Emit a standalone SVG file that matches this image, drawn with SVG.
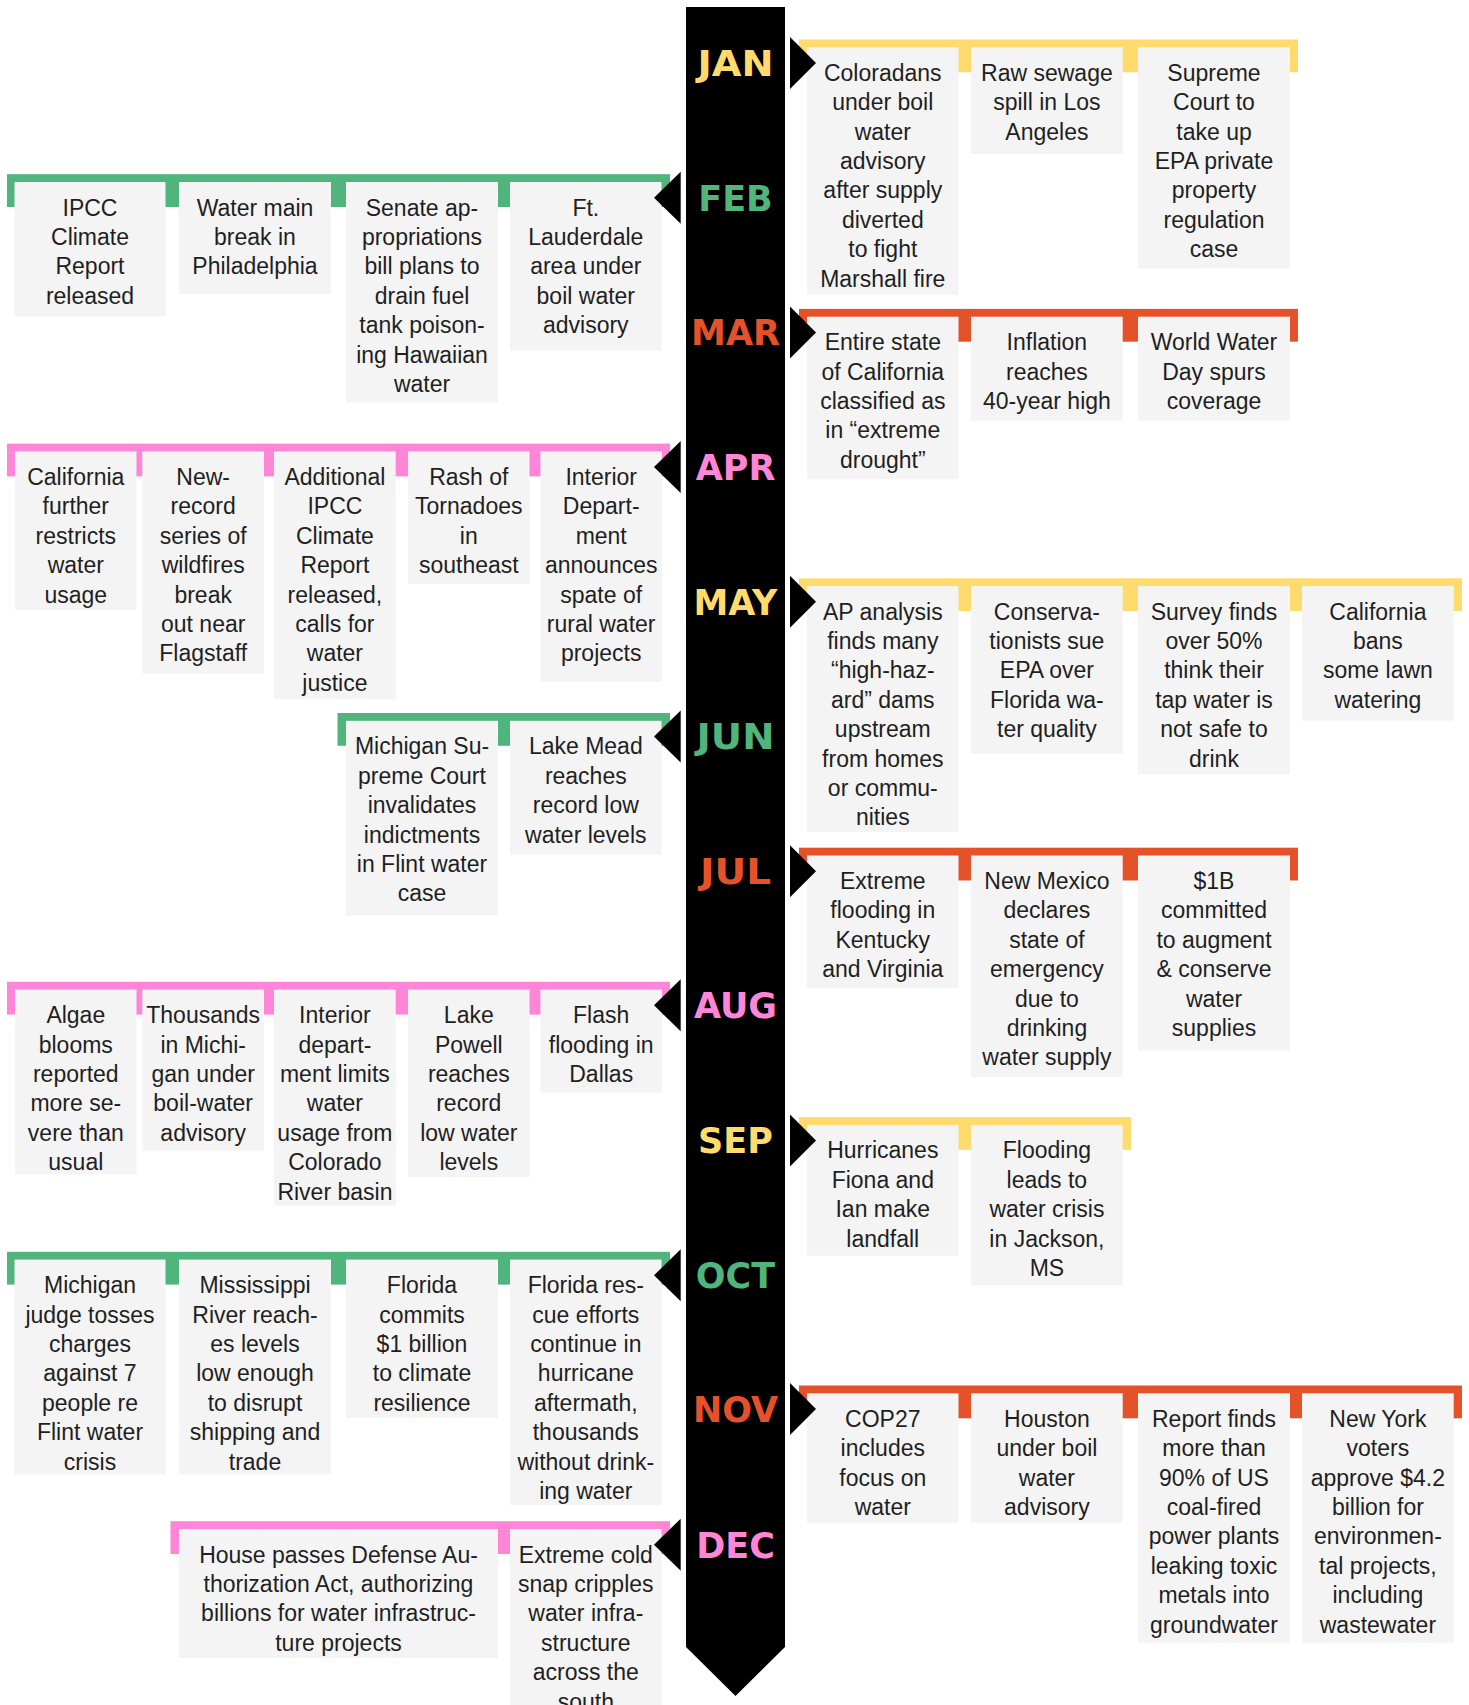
<svg xmlns="http://www.w3.org/2000/svg" width="1469" height="1705" viewBox="0 0 1469 1705">
<style>
.bx{fill:#f4f4f4}
.t{font-family:"Liberation Sans",Arial,sans-serif;font-size:23px;fill:#1f1f1f;text-anchor:middle}
.m{font-family:"DejaVu Sans",sans-serif;font-weight:bold;font-size:35px;text-anchor:middle}
.y{fill:#ffdb6e}.g{fill:#50b47d}.o{fill:#e5522a}.p{fill:#ff85d6}
.tri{fill:#000}
</style>
<rect width="1469" height="1705" fill="#fff"/>
<g id="spine"><polygon points="686,7 785,7 785,1647 735.5,1696 686,1647" fill="#000"/></g>

<g id="connectors">
<rect class="y" x="799" y="39.5" width="499" height="32.8"/>
<rect class="g" x="7" y="174.2" width="663" height="32.8"/>
<rect class="o" x="799" y="308.9" width="499" height="32.8"/>
<rect class="p" x="7" y="443.6" width="663" height="32.8"/>
<rect class="y" x="799" y="578.3" width="663" height="32.8"/>
<rect class="g" x="337.5" y="713" width="332.5" height="32.8"/>
<rect class="o" x="799" y="847.7" width="499" height="32.8"/>
<rect class="p" x="7" y="981.8" width="663" height="32.8"/>
<rect class="y" x="799" y="1117.1" width="332" height="32.8"/>
<rect class="g" x="7" y="1251.8" width="663" height="32.8"/>
<rect class="o" x="799" y="1385.5" width="663" height="32.8"/>
<rect class="p" x="170.5" y="1521.2" width="499.5" height="32.8"/>
</g>

<g id="jan-1"><rect class="bx" x="807" y="47.3" width="151.5" height="247.2"/><text class="t" y="80.8"><tspan x="882.8">Coloradans</tspan><tspan x="882.8" dy="29.4">under boil</tspan><tspan x="882.8" dy="29.4">water</tspan><tspan x="882.8" dy="29.4">advisory</tspan><tspan x="882.8" dy="29.4">after supply</tspan><tspan x="882.8" dy="29.4">diverted</tspan><tspan x="882.8" dy="29.4">to fight</tspan><tspan x="882.8" dy="29.4">Marshall fire</tspan></text></g>
<g id="jan-2"><rect class="bx" x="971" y="47.3" width="151.7" height="106.7"/><text class="t" y="80.8"><tspan x="1046.9">Raw sewage</tspan><tspan x="1046.9" dy="29.4">spill in Los</tspan><tspan x="1046.9" dy="29.4">Angeles</tspan></text></g>
<g id="jan-3"><rect class="bx" x="1138" y="47.3" width="152" height="221.3"/><text class="t" y="80.8"><tspan x="1214">Supreme</tspan><tspan x="1214" dy="29.4">Court to</tspan><tspan x="1214" dy="29.4">take up</tspan><tspan x="1214" dy="29.4">EPA private</tspan><tspan x="1214" dy="29.4">property</tspan><tspan x="1214" dy="29.4">regulation</tspan><tspan x="1214" dy="29.4">case</tspan></text></g>

<g id="feb-1"><rect class="bx" x="14.5" y="182" width="151" height="134.5"/><text class="t" y="215.5"><tspan x="90">IPCC</tspan><tspan x="90" dy="29.4">Climate</tspan><tspan x="90" dy="29.4">Report</tspan><tspan x="90" dy="29.4">released</tspan></text></g>
<g id="feb-2"><rect class="bx" x="179" y="182" width="152" height="112"/><text class="t" y="215.5"><tspan x="255">Water main</tspan><tspan x="255" dy="29.4">break in</tspan><tspan x="255" dy="29.4">Philadelphia</tspan></text></g>
<g id="feb-3"><rect class="bx" x="346" y="182" width="152" height="220.3"/><text class="t" y="215.5"><tspan x="422">Senate ap-</tspan><tspan x="422" dy="29.4">propriations</tspan><tspan x="422" dy="29.4">bill plans to</tspan><tspan x="422" dy="29.4">drain fuel</tspan><tspan x="422" dy="29.4">tank poison-</tspan><tspan x="422" dy="29.4">ing Hawaiian</tspan><tspan x="422" dy="29.4">water</tspan></text></g>
<g id="feb-4"><rect class="bx" x="510" y="182" width="151.5" height="168.5"/><text class="t" y="215.5"><tspan x="585.8">Ft.</tspan><tspan x="585.8" dy="29.4">Lauderdale</tspan><tspan x="585.8" dy="29.4">area under</tspan><tspan x="585.8" dy="29.4">boil water</tspan><tspan x="585.8" dy="29.4">advisory</tspan></text></g>

<g id="mar-1"><rect class="bx" x="807" y="316.7" width="151.5" height="162.6"/><text class="t" y="350.2"><tspan x="882.8">Entire state</tspan><tspan x="882.8" dy="29.4">of California</tspan><tspan x="882.8" dy="29.4">classified as</tspan><tspan x="882.8" dy="29.4">in “extreme</tspan><tspan x="882.8" dy="29.4">drought”</tspan></text></g>
<g id="mar-2"><rect class="bx" x="971" y="316.7" width="151.7" height="104"/><text class="t" y="350.2"><tspan x="1046.9">Inflation</tspan><tspan x="1046.9" dy="29.4">reaches</tspan><tspan x="1046.9" dy="29.4">40-year high</tspan></text></g>
<g id="mar-3"><rect class="bx" x="1138" y="316.7" width="152" height="104"/><text class="t" y="350.2"><tspan x="1214">World Water</tspan><tspan x="1214" dy="29.4">Day spurs</tspan><tspan x="1214" dy="29.4">coverage</tspan></text></g>

<g id="apr-1"><rect class="bx" x="15" y="451.4" width="121.5" height="158.6"/><text class="t" y="484.9"><tspan x="75.8">California</tspan><tspan x="75.8" dy="29.4">further</tspan><tspan x="75.8" dy="29.4">restricts</tspan><tspan x="75.8" dy="29.4">water</tspan><tspan x="75.8" dy="29.4">usage</tspan></text></g>
<g id="apr-2"><rect class="bx" x="142.3" y="451.4" width="121.7" height="222.3"/><text class="t" y="484.9"><tspan x="203.2">New-</tspan><tspan x="203.2" dy="29.4">record</tspan><tspan x="203.2" dy="29.4">series of</tspan><tspan x="203.2" dy="29.4">wildfires</tspan><tspan x="203.2" dy="29.4">break</tspan><tspan x="203.2" dy="29.4">out near</tspan><tspan x="203.2" dy="29.4">Flagstaff</tspan></text></g>
<g id="apr-3"><rect class="bx" x="274" y="451.4" width="121.7" height="247.9"/><text class="t" y="484.9"><tspan x="334.9">Additional</tspan><tspan x="334.9" dy="29.4">IPCC</tspan><tspan x="334.9" dy="29.4">Climate</tspan><tspan x="334.9" dy="29.4">Report</tspan><tspan x="334.9" dy="29.4">released,</tspan><tspan x="334.9" dy="29.4">calls for</tspan><tspan x="334.9" dy="29.4">water</tspan><tspan x="334.9" dy="29.4">justice</tspan></text></g>
<g id="apr-4"><rect class="bx" x="408" y="451.4" width="121.5" height="132.6"/><text class="t" y="484.9"><tspan x="468.8">Rash of</tspan><tspan x="468.8" dy="29.4">Tornadoes</tspan><tspan x="468.8" dy="29.4">in</tspan><tspan x="468.8" dy="29.4">southeast</tspan></text></g>
<g id="apr-5"><rect class="bx" x="540.4" y="451.4" width="121.6" height="230.3"/><text class="t" y="484.9"><tspan x="601.2">Interior</tspan><tspan x="601.2" dy="29.4">Depart-</tspan><tspan x="601.2" dy="29.4">ment</tspan><tspan x="601.2" dy="29.4">announces</tspan><tspan x="601.2" dy="29.4">spate of</tspan><tspan x="601.2" dy="29.4">rural water</tspan><tspan x="601.2" dy="29.4">projects</tspan></text></g>

<g id="may-1"><rect class="bx" x="807" y="586.1" width="151.5" height="245.9"/><text class="t" y="619.6"><tspan x="882.8">AP analysis</tspan><tspan x="882.8" dy="29.4">finds many</tspan><tspan x="882.8" dy="29.4">“high-haz-</tspan><tspan x="882.8" dy="29.4">ard” dams</tspan><tspan x="882.8" dy="29.4">upstream</tspan><tspan x="882.8" dy="29.4">from homes</tspan><tspan x="882.8" dy="29.4">or commu-</tspan><tspan x="882.8" dy="29.4">nities</tspan></text></g>
<g id="may-2"><rect class="bx" x="971" y="586.1" width="151.7" height="167.7"/><text class="t" y="619.6"><tspan x="1046.9">Conserva-</tspan><tspan x="1046.9" dy="29.4">tionists sue</tspan><tspan x="1046.9" dy="29.4">EPA over</tspan><tspan x="1046.9" dy="29.4">Florida wa-</tspan><tspan x="1046.9" dy="29.4">ter quality</tspan></text></g>
<g id="may-3"><rect class="bx" x="1138" y="586.1" width="152" height="188.1"/><text class="t" y="619.6"><tspan x="1214">Survey finds</tspan><tspan x="1214" dy="29.4">over 50%</tspan><tspan x="1214" dy="29.4">think their</tspan><tspan x="1214" dy="29.4">tap water is</tspan><tspan x="1214" dy="29.4">not safe to</tspan><tspan x="1214" dy="29.4">drink</tspan></text></g>
<g id="may-4"><rect class="bx" x="1302" y="586.1" width="151.7" height="134.5"/><text class="t" y="619.6"><tspan x="1377.9">California</tspan><tspan x="1377.9" dy="29.4">bans</tspan><tspan x="1377.9" dy="29.4">some lawn</tspan><tspan x="1377.9" dy="29.4">watering</tspan></text></g>

<g id="jun-1"><rect class="bx" x="346" y="720.8" width="152" height="194.7"/><text class="t" y="754.3"><tspan x="422">Michigan Su-</tspan><tspan x="422" dy="29.4">preme Court</tspan><tspan x="422" dy="29.4">invalidates</tspan><tspan x="422" dy="29.4">indictments</tspan><tspan x="422" dy="29.4">in Flint water</tspan><tspan x="422" dy="29.4">case</tspan></text></g>
<g id="jun-2"><rect class="bx" x="510" y="720.8" width="151.5" height="133.8"/><text class="t" y="754.3"><tspan x="585.8">Lake Mead</tspan><tspan x="585.8" dy="29.4">reaches</tspan><tspan x="585.8" dy="29.4">record low</tspan><tspan x="585.8" dy="29.4">water levels</tspan></text></g>

<g id="jul-1"><rect class="bx" x="807" y="855.5" width="151.5" height="132.8"/><text class="t" y="889"><tspan x="882.8">Extreme</tspan><tspan x="882.8" dy="29.4">flooding in</tspan><tspan x="882.8" dy="29.4">Kentucky</tspan><tspan x="882.8" dy="29.4">and Virginia</tspan></text></g>
<g id="jul-2"><rect class="bx" x="971" y="855.5" width="151.7" height="221.5"/><text class="t" y="889"><tspan x="1046.9">New Mexico</tspan><tspan x="1046.9" dy="29.4">declares</tspan><tspan x="1046.9" dy="29.4">state of</tspan><tspan x="1046.9" dy="29.4">emergency</tspan><tspan x="1046.9" dy="29.4">due to</tspan><tspan x="1046.9" dy="29.4">drinking</tspan><tspan x="1046.9" dy="29.4">water supply</tspan></text></g>
<g id="jul-3"><rect class="bx" x="1138" y="855.5" width="152" height="195"/><text class="t" y="889"><tspan x="1214">$1B</tspan><tspan x="1214" dy="29.4">committed</tspan><tspan x="1214" dy="29.4">to augment</tspan><tspan x="1214" dy="29.4">&amp; conserve</tspan><tspan x="1214" dy="29.4">water</tspan><tspan x="1214" dy="29.4">supplies</tspan></text></g>

<g id="aug-1"><rect class="bx" x="15" y="989.6" width="121.5" height="184.7"/><text class="t" y="1023.1"><tspan x="75.8">Algae</tspan><tspan x="75.8" dy="29.4">blooms</tspan><tspan x="75.8" dy="29.4">reported</tspan><tspan x="75.8" dy="29.4">more se-</tspan><tspan x="75.8" dy="29.4">vere than</tspan><tspan x="75.8" dy="29.4">usual</tspan></text></g>
<g id="aug-2"><rect class="bx" x="142.3" y="989.6" width="121.7" height="161.1"/><text class="t" y="1023.1"><tspan x="203.2">Thousands</tspan><tspan x="203.2" dy="29.4">in Michi-</tspan><tspan x="203.2" dy="29.4">gan under</tspan><tspan x="203.2" dy="29.4">boil-water</tspan><tspan x="203.2" dy="29.4">advisory</tspan></text></g>
<g id="aug-3"><rect class="bx" x="274" y="989.6" width="121.7" height="216.1"/><text class="t" y="1023.1"><tspan x="334.9">Interior</tspan><tspan x="334.9" dy="29.4">depart-</tspan><tspan x="334.9" dy="29.4">ment limits</tspan><tspan x="334.9" dy="29.4">water</tspan><tspan x="334.9" dy="29.4">usage from</tspan><tspan x="334.9" dy="29.4">Colorado</tspan><tspan x="334.9" dy="29.4">River basin</tspan></text></g>
<g id="aug-4"><rect class="bx" x="408" y="989.6" width="121.5" height="187.7"/><text class="t" y="1023.1"><tspan x="468.8">Lake</tspan><tspan x="468.8" dy="29.4">Powell</tspan><tspan x="468.8" dy="29.4">reaches</tspan><tspan x="468.8" dy="29.4">record</tspan><tspan x="468.8" dy="29.4">low water</tspan><tspan x="468.8" dy="29.4">levels</tspan></text></g>
<g id="aug-5"><rect class="bx" x="540.4" y="989.6" width="121.6" height="103.1"/><text class="t" y="1023.1"><tspan x="601.2">Flash</tspan><tspan x="601.2" dy="29.4">flooding in</tspan><tspan x="601.2" dy="29.4">Dallas</tspan></text></g>

<g id="sep-1"><rect class="bx" x="807" y="1124.9" width="151.5" height="130.9"/><text class="t" y="1158.4"><tspan x="882.8">Hurricanes</tspan><tspan x="882.8" dy="29.4">Fiona and</tspan><tspan x="882.8" dy="29.4">Ian make</tspan><tspan x="882.8" dy="29.4">landfall</tspan></text></g>
<g id="sep-2"><rect class="bx" x="971" y="1124.9" width="151.7" height="160.3"/><text class="t" y="1158.4"><tspan x="1046.9">Flooding</tspan><tspan x="1046.9" dy="29.4">leads to</tspan><tspan x="1046.9" dy="29.4">water crisis</tspan><tspan x="1046.9" dy="29.4">in Jackson,</tspan><tspan x="1046.9" dy="29.4">MS</tspan></text></g>

<g id="oct-1"><rect class="bx" x="14.5" y="1259.6" width="151" height="214.8"/><text class="t" y="1293.1"><tspan x="90">Michigan</tspan><tspan x="90" dy="29.4">judge tosses</tspan><tspan x="90" dy="29.4">charges</tspan><tspan x="90" dy="29.4">against 7</tspan><tspan x="90" dy="29.4">people re</tspan><tspan x="90" dy="29.4">Flint water</tspan><tspan x="90" dy="29.4">crisis</tspan></text></g>
<g id="oct-2"><rect class="bx" x="179" y="1259.6" width="152" height="214.8"/><text class="t" y="1293.1"><tspan x="255">Mississippi</tspan><tspan x="255" dy="29.4">River reach-</tspan><tspan x="255" dy="29.4">es levels</tspan><tspan x="255" dy="29.4">low enough</tspan><tspan x="255" dy="29.4">to disrupt</tspan><tspan x="255" dy="29.4">shipping and</tspan><tspan x="255" dy="29.4">trade</tspan></text></g>
<g id="oct-3"><rect class="bx" x="346" y="1259.6" width="152" height="158.2"/><text class="t" y="1293.1"><tspan x="422">Florida</tspan><tspan x="422" dy="29.4">commits</tspan><tspan x="422" dy="29.4">$1 billion</tspan><tspan x="422" dy="29.4">to climate</tspan><tspan x="422" dy="29.4">resilience</tspan></text></g>
<g id="oct-4"><rect class="bx" x="510" y="1259.6" width="151.5" height="245.4"/><text class="t" y="1293.1"><tspan x="585.8">Florida res-</tspan><tspan x="585.8" dy="29.4">cue efforts</tspan><tspan x="585.8" dy="29.4">continue in</tspan><tspan x="585.8" dy="29.4">hurricane</tspan><tspan x="585.8" dy="29.4">aftermath,</tspan><tspan x="585.8" dy="29.4">thousands</tspan><tspan x="585.8" dy="29.4">without drink-</tspan><tspan x="585.8" dy="29.4">ing water</tspan></text></g>

<g id="nov-1"><rect class="bx" x="807" y="1393.3" width="151.5" height="129.4"/><text class="t" y="1426.8"><tspan x="882.8">COP27</tspan><tspan x="882.8" dy="29.4">includes</tspan><tspan x="882.8" dy="29.4">focus on</tspan><tspan x="882.8" dy="29.4">water</tspan></text></g>
<g id="nov-2"><rect class="bx" x="971" y="1393.3" width="151.7" height="129.4"/><text class="t" y="1426.8"><tspan x="1046.9">Houston</tspan><tspan x="1046.9" dy="29.4">under boil</tspan><tspan x="1046.9" dy="29.4">water</tspan><tspan x="1046.9" dy="29.4">advisory</tspan></text></g>
<g id="nov-3"><rect class="bx" x="1138" y="1393.3" width="152" height="249.4"/><text class="t" y="1426.8"><tspan x="1214">Report finds</tspan><tspan x="1214" dy="29.4">more than</tspan><tspan x="1214" dy="29.4">90% of US</tspan><tspan x="1214" dy="29.4">coal-fired</tspan><tspan x="1214" dy="29.4">power plants</tspan><tspan x="1214" dy="29.4">leaking toxic</tspan><tspan x="1214" dy="29.4">metals into</tspan><tspan x="1214" dy="29.4">groundwater</tspan></text></g>
<g id="nov-4"><rect class="bx" x="1302" y="1393.3" width="151.7" height="249.4"/><text class="t" y="1426.8"><tspan x="1377.9">New York</tspan><tspan x="1377.9" dy="29.4">voters</tspan><tspan x="1377.9" dy="29.4">approve $4.2</tspan><tspan x="1377.9" dy="29.4">billion for</tspan><tspan x="1377.9" dy="29.4">environmen-</tspan><tspan x="1377.9" dy="29.4">tal projects,</tspan><tspan x="1377.9" dy="29.4">including</tspan><tspan x="1377.9" dy="29.4">wastewater</tspan></text></g>

<g id="dec-1"><rect class="bx" x="179" y="1529" width="319" height="129"/><text class="t" y="1562.5"><tspan x="338.5">House passes Defense Au-</tspan><tspan x="338.5" dy="29.4">thorization Act, authorizing</tspan><tspan x="338.5" dy="29.4">billions for water infrastruc-</tspan><tspan x="338.5" dy="29.4">ture projects</tspan></text></g>
<g id="dec-2"><rect class="bx" x="510" y="1529" width="151.5" height="180"/><text class="t" y="1562.5"><tspan x="585.8">Extreme cold</tspan><tspan x="585.8" dy="29.4">snap cripples</tspan><tspan x="585.8" dy="29.4">water infra-</tspan><tspan x="585.8" dy="29.4">structure</tspan><tspan x="585.8" dy="29.4">across the</tspan><tspan x="585.8" dy="29.4">south</tspan></text></g>

<g id="pointers" class="tri">
<polygon points="790,37 816,63 790,89"/>
<polygon points="680.7,171.7 654,197.7 680.7,223.7"/>
<polygon points="790,306.4 816,332.4 790,358.4"/>
<polygon points="680.7,441.1 654,467.1 680.7,493.1"/>
<polygon points="790,575.8 816,601.8 790,627.8"/>
<polygon points="680.7,710.5 654,736.5 680.7,762.5"/>
<polygon points="790,845.2 816,871.2 790,897.2"/>
<polygon points="680.7,979.3 654,1005.3 680.7,1031.3"/>
<polygon points="790,1114.6 816,1140.6 790,1166.6"/>
<polygon points="680.7,1249.3 654,1275.3 680.7,1301.3"/>
<polygon points="790,1383 816,1409 790,1435"/>
<polygon points="680.7,1518.7 654,1544.7 680.7,1570.7"/>
</g>

<g id="months">
<text class="m y" x="735.5" y="75.8" textLength="76" lengthAdjust="spacingAndGlyphs">JAN</text>
<text class="m g" x="735.5" y="210.5">FEB</text>
<text class="m o" x="735.5" y="345.2">MAR</text>
<text class="m p" x="735.5" y="479.9">APR</text>
<text class="m y" x="735.5" y="614.6">MAY</text>
<text class="m g" x="735.5" y="749.3" textLength="78" lengthAdjust="spacingAndGlyphs">JUN</text>
<text class="m o" x="735.5" y="884" textLength="71" lengthAdjust="spacingAndGlyphs">JUL</text>
<text class="m p" x="735.5" y="1018.1">AUG</text>
<text class="m y" x="735.5" y="1153.4">SEP</text>
<text class="m g" x="735.5" y="1288.1">OCT</text>
<text class="m o" x="735.5" y="1421.8">NOV</text>
<text class="m p" x="735.5" y="1557.5">DEC</text>
</g>
</svg>
